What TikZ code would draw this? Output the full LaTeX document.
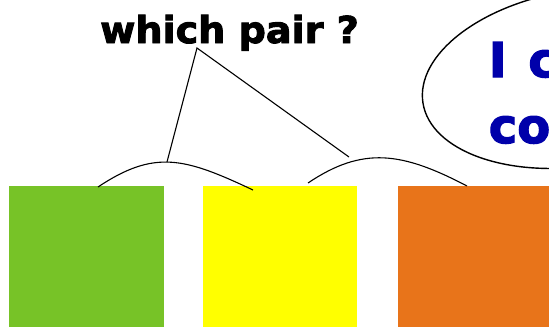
\documentclass[tikz,border=0pt]{standalone}
\usepackage{fontspec}
\newfontfamily\djheavy[FakeBold=2.5,FakeStretch=1.03]{DejaVu Sans Bold}
\newfontfamily\djblue[FakeBold=2.5]{DejaVu Sans Bold}
\definecolor{boxgreen}{RGB}{119,195,39}
\definecolor{boxyellow}{RGB}{255,255,0}
\definecolor{boxorange}{RGB}{232,116,26}
\definecolor{saytext}{RGB}{0,0,170}
\begin{document}
\begin{tikzpicture}[x=1pt,y=-1pt,
  colbox/.style={anchor=north west,inner sep=0pt,outer sep=0pt,draw=none,minimum height=141pt},
  thin line/.style={line width=1.1pt,black},
  heavy/.style={font=\djheavy\fontsize{37}{37}\selectfont,anchor=base west,inner sep=0pt},
  saying/.style={font=\djblue\fontsize{48}{48}\selectfont,anchor=base west,inner sep=0pt,text=saytext}]
\useasboundingbox (0,0) rectangle (549,327);
\clip (0,0) rectangle (549,327);
\fill[white] (0,0) rectangle (549,327);
% boxes
\node[colbox,fill=boxgreen,minimum width=155pt] (g) at (9,186) {};
\node[colbox,fill=boxyellow,minimum width=154pt] (y) at (203,186) {};
\node[colbox,fill=boxorange,minimum width=170pt] (o) at (398,186) {};
% speech ellipse
\draw[thin line,line width=1.4pt,shift={(581,78)},rotate=9] (0,0) ellipse [x radius=160, y radius=88];
\node[saying] (l1) at (488.6,77) {I\ \hspace{5pt}c};
\node[saying] (l2) at (488.6,143) {co};
% question
\node[heavy] (q) at (100,43) {which pair ?};
\coordinate (apex) at (197,48);
% arcs
\coordinate (a1s) at (98,187);
\coordinate (a1e) at (253,190);
\coordinate (a1m) at (167,162);
\coordinate (a2s) at (308,183);
\coordinate (a2e) at (467,186);
\coordinate (a2m) at (349,157);
\draw[thin line] (a1s) .. controls (155,149) and (185,158) .. (a1e);
\draw[thin line] (a2s) .. controls (363,146) and (402,152) .. (a2e);
\draw[thin line] (a1m) -- (apex) -- (a2m);
\end{tikzpicture}
\end{document}
